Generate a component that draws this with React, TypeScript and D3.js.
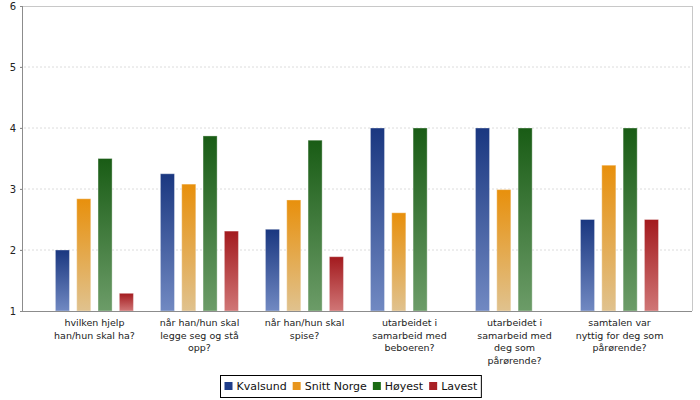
import React from "react";
import * as d3 from "d3";

const categories: string[][] = [
  ["hvilken hjelp", "han/hun skal ha?"],
  ["når han/hun skal", "legge seg og stå", "opp?"],
  ["når han/hun skal", "spise?"],
  ["utarbeidet i", "samarbeid med", "beboeren?"],
  ["utarbeidet i", "samarbeid med", "deg som", "pårørende?"],
  ["samtalen var", "nyttig for deg som", "pårørende?"],
];
const seriesNames = ["Kvalsund", "Snitt Norge", "Høyest", "Lavest"];
const kvalsund = [2, 3.25, 2.34, 4, 4, 2.5];
const snittNorge = [2.84, 3.08, 2.82, 2.61, 2.99, 3.39];
const hoyest = [3.5, 3.87, 3.8, 4, 4, 4];
const lavest: (number | null)[] = [1.29, 2.31, 1.89, null, null, 2.5];
const yTicks = [1, 2, 3, 4, 5, 6];

const seriesValues = [kvalsund, snittNorge, hoyest, lavest];
const legendColors = ["#1f3d8a", "#e8961e", "#1a6b14", "#a82025"];
const gradTop = ["#1a3780", "#e8900c", "#195c15", "#a31a1e"];
const gradBottom = ["#7189c2", "#e0c28e", "#6c9c68", "#d07676"];

const W = 700;
const H = 400;
const left = 22;
const right = 692;
const top = 6;
const bottom = 311;

function textWidth(t: string, font: string): number {
  if (typeof document === "undefined") return t.length * 6;
  const c = document.createElement("canvas");
  const ctx = c.getContext("2d");
  if (!ctx) return t.length * 6;
  ctx.font = font;
  return ctx.measureText(t).width;
}

export default function App() {
  const y = d3.scaleLinear().domain([1, 6]).range([bottom, top]);
  const x0 = d3
    .scaleBand<number>()
    .domain(d3.range(categories.length))
    .range([left, right])
    .paddingOuter(0.19)
    .paddingInner(0);
  const x1 = d3
    .scaleBand<number>()
    .domain(d3.range(seriesNames.length))
    .range([x0.bandwidth() * 0.128, x0.bandwidth() * 0.871])
    .paddingInner(0.34)
    .paddingOuter(0);

  const legendFont = "11px 'DejaVu Sans'";
  const items = seriesNames.map((n) => ({ n, w: 12 + textWidth(n, legendFont) }));
  const gapItems = 6;
  const totalW = d3.sum(items, (d) => d.w) + gapItems * (items.length - 1);
  const boxPad = 4;
  const boxW = totalW + boxPad * 2;
  const boxX = Math.round(W / 2 - boxW / 2) + 0.5;
  let acc = boxX + boxPad;
  const legendPos = items.map((it) => {
    const p = acc;
    acc += it.w + gapItems;
    return p;
  });

  return (
    <svg
      width={W}
      height={H}
      style={{ position: "absolute", left: 0, top: 0, background: "#fff" }}
      fontFamily="'DejaVu Sans', sans-serif"
    >
      <defs>
        {seriesNames.map((_, i) => (
          <linearGradient key={i} id={`g${i}`} x1="0" y1="0" x2="0" y2="1">
            <stop offset="0" stopColor={gradTop[i]} />
            <stop offset="1" stopColor={gradBottom[i]} />
          </linearGradient>
        ))}
      </defs>
      <rect x={0} y={0} width={W} height={H} fill="#fff" />
      {/* grid */}
      {yTicks.slice(1, -1).map((t) => (
        <line
          key={t}
          x1={left - 2}
          x2={right}
          y1={y(t)}
          y2={y(t)}
          stroke="#dcdcdc"
          strokeDasharray="2,2"
        />
      ))}
      {/* plot border top/right */}
      <line x1={left} x2={right} y1={top + 0.5} y2={top + 0.5} stroke="#c8c8c8" />
      <line x1={right + 0.5} x2={right + 0.5} y1={top} y2={bottom} stroke="#c8c8c8" />
      {/* bars */}
      {categories.map((_, ci) => (
        <g key={ci} transform={`translate(${x0(ci)},0)`}>
          {seriesValues.map((vals, si) => {
            const v = vals[ci];
            if (v == null) return null;
            return (
              <rect
                key={si}
                x={x1(si)}
                y={y(v)}
                width={x1.bandwidth()}
                height={y(1) - y(v)}
                fill={`url(#g${si})`}
                stroke="#ffffff"
                strokeOpacity={0.35}
                strokeWidth={1}
              />
            );
          })}
        </g>
      ))}
      {/* axes */}
      <line x1={left + 0.5} x2={left + 0.5} y1={top} y2={bottom} stroke="#8c8c8c" />
      <line x1={left - 2} x2={right} y1={bottom + 0.5} y2={bottom + 0.5} stroke="#8c8c8c" />
      {yTicks.map((t) => (
        <g key={t}>
          <line x1={left - 2} x2={left} y1={y(t) + 0.5} y2={y(t) + 0.5} stroke="#8c8c8c" />
          <text x={16} y={y(t)} dy="0.35em" textAnchor="end" fontSize={10} fill="#222">
            {t}
          </text>
        </g>
      ))}
      {/* category labels */}
      {categories.map((lines, ci) => (
        <text
          key={ci}
          x={(x0(ci) as number) + x0.bandwidth() / 2}
          y={326}
          textAnchor="middle"
          fontSize={9.5}
          fill="#222"
        >
          {lines.map((l, li) => (
            <tspan key={li} x={(x0(ci) as number) + x0.bandwidth() / 2} dy={li === 0 ? 0 : 12.5}>
              {l}
            </tspan>
          ))}
        </text>
      ))}
      {/* legend */}
      <rect x={boxX} y={375.5} width={boxW} height={22} fill="#fff" stroke="#000" strokeWidth={1} />
      {items.map((it, i) => (
        <g key={it.n}>
          <rect x={legendPos[i]} y={382} width={8} height={8} fill={legendColors[i]} />
          <text x={legendPos[i] + 12} y={386.5} dy="0.35em" fontSize={11} fill="#111">
            {it.n}
          </text>
        </g>
      ))}
    </svg>
  );
}
